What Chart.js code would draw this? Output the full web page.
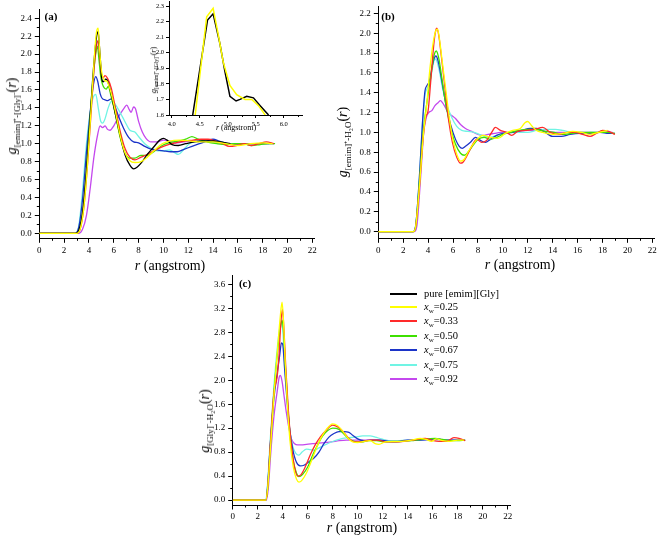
<!DOCTYPE html>
<html><head><meta charset="utf-8">
<script src="https://cdn.jsdelivr.net/npm/chart.js@4.4.1/dist/chart.umd.min.js"></script>
<style>
body{margin:0;background:#fff;width:661px;height:538px;position:relative;overflow:hidden;font-family:"Liberation Serif","Times New Roman",serif;color:#000;}
canvas{position:absolute;}
.t{position:absolute;white-space:nowrap;line-height:1;}
.c{transform:translate(-50%,-50%);}
.rot{transform:translate(-50%,-50%) rotate(-90deg);}
.pl{font-weight:bold;font-size:11px;}
.xt{font-size:14px;}
.yt{font-size:14px;}
.yt .s{font-size:9px;position:relative;top:4px;}
.yti{font-size:8px;}
.yti .s{font-size:5.5px;position:relative;top:2px;}
.lg{position:absolute;left:390px;width:27px;height:2px;}
.lt{position:absolute;left:424px;font-size:10.5px;white-space:nowrap;line-height:1;transform:translateY(-50%);}
.lt .s{font-size:7px;position:relative;top:3px;}
</style></head><body>
<canvas id="ca" width="330" height="275" style="left:0;top:0"></canvas>
<canvas id="cb" width="331" height="275" style="left:330px;top:0"></canvas>
<canvas id="cc" width="340" height="268" style="left:190px;top:270px"></canvas>
<canvas id="ci" width="175" height="140" style="left:140px;top:0"></canvas>

<div class="t c pl" style="left:51px;top:16px">(a)</div>
<div class="t c pl" style="left:388px;top:16px">(b)</div>
<div class="t c pl" style="left:245px;top:283px">(c)</div>

<div class="t c xt" style="left:170px;top:266px"><i>r</i> (angstrom)</div>
<div class="t c xt" style="left:520px;top:265px"><i>r</i> (angstrom)</div>
<div class="t c xt" style="left:362px;top:528px"><i>r</i> (angstrom)</div>
<div class="t c" style="left:236px;top:128px;font-size:8px"><i>r</i> (angstrom)</div>

<div class="t rot yt" style="left:12px;top:116px"><i>g</i><span class="s">[emim]⁺-[Gly]⁻</span>(<i>r</i>)</div>
<div class="t rot yt" style="left:343px;top:142px"><i>g</i><span class="s">[emim]⁺-H₂O</span>(<i>r</i>)</div>
<div class="t rot yt" style="left:205px;top:421px"><i>g</i><span class="s">[Gly]⁻-H₂O</span>(<i>r</i>)</div>
<div class="t rot yti" style="left:154px;top:70px"><i>g</i><span class="s">[emim]⁺-[Gly]⁻</span>(<i>r</i>)</div>

<div id="legend"></div>

<script>
// ---------- tick labels ----------
const xTicksMain = [0,2,4,6,8,10,12,14,16,18,20,22];
const xMinorMain = [1,3,5,7,9,11,13,15,17,19,21];
const yTicksA = [0,0.2,0.4,0.6,0.8,1.0,1.2,1.4,1.6,1.8,2.0,2.2,2.4];
const yMinorA = [0.1,0.3,0.5,0.7,0.9,1.1,1.3,1.5,1.7,1.9,2.1,2.3];
const yTicksB = [0,0.2,0.4,0.6,0.8,1.0,1.2,1.4,1.6,1.8,2.0,2.2];
const yMinorB = [0.1,0.3,0.5,0.7,0.9,1.1,1.3,1.5,1.7,1.9,2.1];
const yTicksC = [0,0.4,0.8,1.2,1.6,2.0,2.4,2.8,3.2,3.6];
const yMinorC = [0.2,0.6,1.0,1.4,1.8,2.2,2.6,3.0,3.4];
const xTicksIn = [4.0,4.5,5.0,5.5,6.0];
const xMinorIn = [4.25,4.75,5.25,5.75,6.25];
const yTicksIn = [1.6,1.7,1.8,1.9,2.0,2.1,2.2,2.3];

// ---------- legend ----------
const seriesNames = ['pure [emim][Gly]','0.25','0.33','0.50','0.67','0.75','0.92'];
const seriesColors = ['#000000','#ffff00','#ff2a2a','#3ee000','#1c34c8','#70f4e4','#c448ee'];

// ---------- panel (a): g_[emim]-[Gly](r), pairs [r, g] ----------
const a_pure = [[0,0],[2.9,0],[3.2,0.04],[3.5,0.25],[3.8,0.7],[4.1,1.3],[4.4,1.9],[4.62,2.2],[4.74,2.25],[4.86,2.06],[4.95,1.88],[5.04,1.72],[5.15,1.69],[5.22,1.70],[5.34,1.72],[5.46,1.71],[5.6,1.66],[5.8,1.55],[6.1,1.35],[6.5,1.1],[6.9,0.88],[7.3,0.76],[7.6,0.72],[7.9,0.74],[8.3,0.8],[8.7,0.88],[9.2,0.96],[9.7,1.04],[10.0,1.06],[10.3,1.04],[10.7,0.99],[11.2,0.98],[11.8,1.0],[12.5,1.02],[13.3,1.03],[14.0,1.03],[14.6,1.02],[15.4,1.0]];
const a_025 = [[0,0],[3.0,0],[3.3,0.05],[3.6,0.3],[3.9,0.8],[4.2,1.45],[4.45,2.0],[4.6,2.24],[4.74,2.29],[4.83,2.12],[4.92,1.94],[5.04,1.79],[5.16,1.73],[5.31,1.70],[5.43,1.70],[5.6,1.65],[5.8,1.56],[6.1,1.38],[6.5,1.1],[6.9,0.9],[7.3,0.81],[7.7,0.79],[8.2,0.8],[8.7,0.85],[9.3,0.93],[9.9,1.0],[10.5,1.03],[11.3,1.04],[12.2,1.03],[13.0,1.02],[14.0,1.02],[15.0,1.0],[16.0,0.98],[17.0,1.0],[18.0,1.01],[18.8,1.0]];
const a_033 = [[0,0],[3.0,0],[3.3,0.05],[3.6,0.3],[3.9,0.8],[4.2,1.4],[4.45,1.9],[4.62,2.1],[4.74,2.15],[4.88,1.95],[5.0,1.78],[5.15,1.74],[5.3,1.76],[5.5,1.73],[5.8,1.62],[6.1,1.42],[6.5,1.15],[6.9,0.95],[7.3,0.85],[7.7,0.82],[8.2,0.85],[8.7,0.88],[9.2,0.92],[9.8,0.96],[10.4,0.99],[11.0,1.01],[11.7,1.03],[12.4,1.04],[13.0,1.05],[13.6,1.05],[14.2,1.03],[14.8,1.0],[15.3,0.97],[15.9,0.98],[16.5,1.0],[17.1,0.98],[17.7,1.0],[18.3,1.02],[18.9,1.0]];
const a_050 = [[0,0],[3.0,0],[3.3,0.06],[3.6,0.35],[3.9,0.9],[4.2,1.5],[4.45,1.9],[4.6,2.05],[4.68,2.09],[4.8,1.95],[4.95,1.75],[5.1,1.66],[5.25,1.62],[5.4,1.61],[5.55,1.64],[5.8,1.52],[6.1,1.35],[6.5,1.08],[6.9,0.9],[7.3,0.84],[7.7,0.84],[8.2,0.87],[8.7,0.87],[9.3,0.92],[9.9,0.98],[10.5,1.01],[11.2,1.03],[11.8,1.05],[12.3,1.08],[12.8,1.05],[13.5,1.02],[14.3,1.0],[15.0,0.99],[15.7,1.0],[16.4,1.0],[17.1,0.98],[17.8,0.99],[18.4,1.0],[19.0,1.0]];
const a_067 = [[0,0],[2.9,0],[3.2,0.08],[3.5,0.4],[3.8,0.9],[4.1,1.35],[4.35,1.65],[4.55,1.75],[4.7,1.7],[4.9,1.56],[5.1,1.5],[5.3,1.49],[5.5,1.48],[5.8,1.5],[6.0,1.45],[6.4,1.3],[6.8,1.17],[7.2,1.07],[7.6,1.02],[8.0,1.01],[8.5,0.97],[9.0,0.94],[9.5,0.93],[10.0,0.92],[10.6,0.91],[11.1,0.91],[11.7,0.94],[12.3,0.97],[12.9,1.0],[13.5,1.03],[14.0,1.05],[14.5,1.03],[15.2,1.0],[15.8,0.99],[16.5,1.0],[17.2,1.0],[18.0,1.0],[18.9,1.0]];
const a_075 = [[0,0],[2.9,0],[3.2,0.1],[3.5,0.5],[3.8,1.0],[4.1,1.35],[4.35,1.52],[4.55,1.55],[4.75,1.4],[4.95,1.25],[5.1,1.23],[5.3,1.28],[5.55,1.4],[5.8,1.47],[6.0,1.46],[6.3,1.4],[6.7,1.3],[7.0,1.22],[7.3,1.15],[7.7,1.13],[8.0,1.08],[8.5,1.0],[9.0,0.95],[9.5,0.92],[10.0,0.92],[10.5,0.93],[10.9,0.9],[11.2,0.88],[11.6,0.93],[12.1,1.0],[12.7,1.03],[13.3,1.03],[14.0,1.02],[14.7,1.01],[15.5,1.0],[16.5,1.0],[17.5,1.0],[18.5,1.0]];
const a_092 = [[0,0],[3.2,0],[3.5,0.05],[3.8,0.2],[4.1,0.5],[4.4,0.85],[4.7,1.1],[4.9,1.2],[5.1,1.18],[5.3,1.2],[5.5,1.16],[5.7,1.15],[6.0,1.2],[6.3,1.28],[6.6,1.35],[6.85,1.4],[7.05,1.43],[7.25,1.38],[7.4,1.35],[7.6,1.41],[7.75,1.39],[8.0,1.25],[8.3,1.13],[8.6,1.06],[9.0,1.02],[9.5,1.02],[10.0,1.04],[10.5,1.03],[11.0,1.01],[11.6,1.02],[12.3,1.03],[13.0,1.03],[13.7,1.02],[14.4,1.01],[15.2,1.0],[16.2,1.0],[17.2,1.0],[18.5,1.0]];

// ---------- panel (b): g_[emim]-H2O(r) ----------
const b_025 = [[0,0],[2.8,0],[3.0,0.05],[3.3,0.45],[3.6,0.95],[3.9,1.3],[4.15,1.65],[4.4,1.9],[4.6,2.02],[4.75,2.04],[4.9,1.95],[5.1,1.75],[5.4,1.45],[5.7,1.15],[6.0,0.92],[6.3,0.78],[6.6,0.71],[6.9,0.73],[7.2,0.8],[7.6,0.88],[8.0,0.94],[8.4,0.97],[9.0,0.95],[9.6,0.94],[10.2,0.99],[10.8,1.02],[11.4,1.04],[11.8,1.1],[12.0,1.11],[12.3,1.07],[12.7,1.02],[13.2,1.0],[14.0,0.98],[14.8,0.99],[15.6,1.01],[16.3,1.0],[17.0,0.98],[17.7,1.0],[18.4,1.02]];
const b_033 = [[0,0],[2.8,0],[3.0,0.05],[3.3,0.45],[3.6,0.95],[3.8,1.15],[4.0,1.22],[4.2,1.5],[4.45,1.88],[4.6,2.02],[4.7,2.05],[4.85,1.98],[5.05,1.78],[5.35,1.45],[5.65,1.12],[5.95,0.9],[6.3,0.75],[6.6,0.69],[6.8,0.7],[7.1,0.76],[7.5,0.86],[7.9,0.93],[8.3,0.9],[8.7,0.92],[9.1,1.0],[9.4,1.05],[9.8,1.02],[10.3,1.0],[10.7,0.97],[11.2,1.01],[11.8,1.02],[12.5,1.03],[13.2,1.05],[13.8,1.0],[14.5,0.98],[15.2,1.0],[15.8,1.0],[16.4,0.98],[17.0,0.96],[17.5,0.99],[18.0,1.02],[18.5,1.01],[19.0,0.98]];
const b_050 = [[0,0],[2.8,0],[3.0,0.05],[3.3,0.5],[3.6,1.0],[3.9,1.3],[4.2,1.55],[4.45,1.76],[4.65,1.82],[4.85,1.75],[5.1,1.55],[5.4,1.3],[5.8,1.05],[6.2,0.88],[6.6,0.79],[6.9,0.77],[7.2,0.8],[7.6,0.87],[8.0,0.93],[8.5,0.95],[9.0,0.93],[9.5,0.95],[10.0,0.98],[10.6,1.0],[11.3,1.02],[12.0,1.03],[12.7,1.03],[13.4,1.01],[14.1,1.0],[14.8,0.98],[15.5,0.99],[16.2,1.0],[17.0,1.0],[17.8,1.0],[18.5,1.0],[19.0,0.99]];
const b_067 = [[0,0],[2.8,0],[3.0,0.06],[3.3,0.55],[3.55,1.1],[3.75,1.42],[3.9,1.47],[4.1,1.52],[4.3,1.65],[4.5,1.75],[4.62,1.77],[4.8,1.72],[5.1,1.52],[5.4,1.3],[5.8,1.08],[6.2,0.93],[6.5,0.86],[6.75,0.84],[7.0,0.86],[7.4,0.9],[7.8,0.95],[8.2,0.92],[8.6,0.9],[9.0,0.93],[9.5,0.97],[10.0,0.99],[10.8,1.0],[11.5,1.02],[12.2,1.04],[12.7,1.04],[13.3,1.01],[14.0,0.96],[14.7,0.96],[15.4,0.98],[16.2,0.99],[17.0,0.99],[17.8,1.0],[18.5,0.99],[19.0,0.99]];
const b_075 = [[0,0],[2.8,0],[3.0,0.06],[3.3,0.55],[3.55,1.1],[3.75,1.38],[3.95,1.45],[4.15,1.5],[4.35,1.65],[4.55,1.74],[4.7,1.72],[4.9,1.62],[5.2,1.42],[5.5,1.28],[5.9,1.15],[6.3,1.06],[6.7,1.02],[7.2,1.01],[7.7,1.0],[8.1,0.98],[8.5,0.96],[9.0,0.95],[9.5,0.97],[10.0,0.99],[10.7,1.0],[11.4,1.0],[12.0,1.0],[12.7,1.02],[13.4,1.03],[14.2,1.03],[14.8,1.02],[15.5,1.0],[16.3,0.99],[17.0,1.0],[17.8,1.0],[18.5,1.0]];
const b_092 = [[0,0],[2.9,0],[3.1,0.06],[3.4,0.55],[3.65,1.0],[3.85,1.15],[4.05,1.2],[4.3,1.22],[4.55,1.27],[4.8,1.3],[5.0,1.32],[5.15,1.3],[5.35,1.26],[5.6,1.2],[5.9,1.17],[6.2,1.14],[6.6,1.08],[7.0,1.04],[7.5,1.01],[8.0,0.98],[8.4,0.97],[8.8,0.98],[9.3,0.99],[9.8,1.0],[10.5,1.0],[11.2,1.01],[12.0,1.02],[12.8,1.02],[13.6,1.01],[14.4,1.0],[15.2,1.0],[16.0,1.0],[17.0,1.0],[18.0,1.0],[18.8,1.0]];

// ---------- panel (c): g_[Gly]-H2O(r) ----------
const c_025 = [[0,0],[2.65,0],[2.8,0.2],[3.0,0.8],[3.3,1.75],[3.6,2.55],[3.8,3.05],[3.95,3.3],[4.05,3.05],[4.2,2.3],[4.4,1.5],[4.6,0.95],[4.85,0.55],[5.1,0.35],[5.3,0.3],[5.5,0.32],[5.9,0.45],[6.3,0.65],[6.7,0.87],[7.1,1.05],[7.5,1.18],[8.0,1.27],[8.4,1.24],[8.8,1.15],[9.2,1.04],[9.6,0.97],[10.0,0.96],[10.5,0.98],[11.0,0.99],[11.4,0.94],[11.7,0.93],[12.2,0.97],[12.8,0.98],[13.5,0.98],[14.3,1.0],[15.0,1.03],[15.5,1.01],[15.9,0.98],[16.3,1.02],[16.8,0.99],[17.4,0.98],[18.0,1.0],[18.5,1.0]];
const c_033 = [[0,0],[2.65,0],[2.8,0.2],[3.0,0.9],[3.3,1.8],[3.55,2.05],[3.7,2.4],[3.85,2.95],[3.98,3.18],[4.1,2.85],[4.25,2.2],[4.45,1.5],[4.65,1.0],[4.9,0.6],[5.2,0.4],[5.45,0.42],[5.8,0.55],[6.2,0.75],[6.6,0.92],[7.0,1.05],[7.5,1.17],[8.0,1.25],[8.4,1.22],[8.8,1.15],[9.2,1.05],[9.6,0.98],[10.0,0.97],[10.5,0.98],[11.0,1.0],[11.6,1.0],[12.3,0.97],[13.0,0.97],[13.7,0.98],[14.4,1.0],[15.0,1.02],[15.4,1.03],[15.9,1.0],[16.5,0.98],[17.1,0.98],[17.7,1.04],[18.1,1.03],[18.6,0.99]];
const c_050 = [[0,0],[2.65,0],[2.8,0.2],[3.0,0.85],[3.3,1.8],[3.6,2.5],[3.8,2.85],[3.95,3.0],[4.05,2.85],[4.2,2.3],[4.4,1.6],[4.6,1.05],[4.85,0.65],[5.1,0.45],[5.3,0.39],[5.6,0.43],[6.0,0.55],[6.4,0.75],[6.8,0.92],[7.2,1.07],[7.6,1.16],[8.0,1.2],[8.5,1.18],[8.9,1.1],[9.3,1.02],[9.7,0.98],[10.3,0.97],[10.9,0.99],[11.5,0.99],[12.2,0.97],[12.9,0.97],[13.6,0.98],[14.3,0.99],[15.0,1.01],[15.6,1.02],[16.2,1.03],[16.8,1.01],[17.4,0.99],[18.0,0.99],[18.6,1.0]];
const c_067 = [[0,0],[2.65,0],[2.8,0.25],[3.0,0.9],[3.3,1.7],[3.55,2.1],[3.75,2.4],[3.9,2.62],[4.0,2.6],[4.15,2.2],[4.35,1.65],[4.55,1.2],[4.8,0.85],[5.1,0.63],[5.4,0.57],[5.7,0.58],[6.1,0.64],[6.5,0.7],[6.9,0.8],[7.3,0.94],[7.7,1.05],[8.1,1.11],[8.5,1.14],[8.9,1.14],[9.3,1.13],[9.6,1.08],[10.0,1.02],[10.5,0.99],[11.1,1.0],[11.8,1.0],[12.5,0.98],[13.2,0.98],[14.0,1.0],[14.8,1.0],[15.5,1.01],[16.2,1.02],[17.0,1.0],[17.8,1.0],[18.5,1.0]];
const c_075 = [[0,0],[2.65,0],[2.8,0.3],[3.0,1.0],[3.3,1.9],[3.55,2.5],[3.75,2.85],[3.9,2.95],[4.0,2.85],[4.15,2.3],[4.35,1.7],[4.55,1.2],[4.8,0.9],[5.05,0.78],[5.3,0.75],[5.55,0.8],[5.9,0.85],[6.2,0.84],[6.5,0.83],[6.9,0.87],[7.3,0.91],[7.8,0.96],[8.3,1.0],[8.8,1.03],[9.3,1.04],[9.8,1.05],[10.4,1.07],[11.0,1.07],[11.4,1.05],[11.9,1.02],[12.5,0.99],[13.2,0.99],[14.0,1.0],[14.8,1.0],[15.6,1.01],[16.4,1.01],[17.2,1.0],[18.0,1.0],[18.6,1.0]];
const c_092 = [[0,0],[2.7,0],[2.85,0.2],[3.05,0.8],[3.3,1.4],[3.55,1.8],[3.72,2.05],[3.82,2.08],[3.95,1.98],[4.1,1.75],[4.3,1.45],[4.5,1.2],[4.7,1.02],[4.95,0.94],[5.2,0.92],[5.5,0.92],[5.9,0.93],[6.4,0.94],[6.9,0.95],[7.4,0.96],[7.9,0.97],[8.5,0.99],[9.1,1.0],[9.7,1.0],[10.4,1.0],[11.1,1.0],[11.8,1.0],[12.6,0.99],[13.4,0.99],[14.2,1.0],[15.0,1.0],[15.8,1.01],[16.6,1.01],[17.4,1.0],[18.2,1.0],[18.6,1.0]];

// ---------- inset: first peak of panel (a) ----------
const in_pure = [[4.375,1.6],[4.64,2.21],[4.74,2.25],[4.86,2.06],[4.95,1.88],[5.04,1.72],[5.15,1.69],[5.22,1.70],[5.34,1.72],[5.46,1.71],[5.58,1.66],[5.73,1.6]];
const in_025 = [[4.42,1.6],[4.625,2.23],[4.74,2.285],[4.83,2.12],[4.92,1.94],[5.04,1.79],[5.16,1.73],[5.31,1.70],[5.43,1.70],[5.55,1.66],[5.67,1.6]];

// ---------- helpers ----------
const FONT = 'Liberation Serif';
const minorTicks = {
  id:'minorTicks',
  afterDraw(chart, args, o){
    const ctx = chart.ctx, ca = chart.chartArea, xs = chart.scales.x, ys = chart.scales.y;
    ctx.save(); ctx.strokeStyle='#000'; ctx.lineWidth=1;
    (o.x||[]).forEach(v=>{const p=Math.round(xs.getPixelForValue(v))+0.5;ctx.beginPath();ctx.moveTo(p,ca.bottom);ctx.lineTo(p,ca.bottom+o.len);ctx.stroke();});
    (o.y||[]).forEach(v=>{const p=Math.round(ys.getPixelForValue(v))+0.5;ctx.beginPath();ctx.moveTo(ca.left,p);ctx.lineTo(ca.left-o.len,p);ctx.stroke();});
    ctx.restore();
  }
};

function ds(pairs, color, mono, width){
  return {data: pairs.map(p=>({x:p[0], y:p[1]})), borderColor:color, backgroundColor:color,
    borderWidth: width||1.3, pointRadius:0, fill:false,
    cubicInterpolationMode: mono ? 'monotone' : 'default', tension: 0};
}

function makeChart(id, datasets, cfg){
  return new Chart(document.getElementById(id), {
    type:'line',
    data:{datasets},
    options:{
      responsive:false, animation:false, events:[],
      layout:{padding:{left:0, right:cfg.padR, top:cfg.padT, bottom:0}},
      plugins:{legend:{display:false}, tooltip:{enabled:false},
        minorTicks:{x:cfg.xMinor, y:cfg.yMinor, len:cfg.minorLen}},
      scales:{
        x:{type:'linear', min:cfg.xMin, max:cfg.xMax,
          afterBuildTicks(s){ s.ticks = cfg.xTicks.map(v=>({value:v})); },
          afterFit(s){ s.height = cfg.xH; s.paddingLeft=0; s.paddingRight=0; },
          ticks:{font:{family:FONT,size:cfg.fs}, color:'#000', maxRotation:0, autoSkip:false, padding:cfg.xPad,
            callback:(v)=> cfg.xDec ? Number(v).toFixed(1) : String(v)},
          grid:{drawOnChartArea:false, drawTicks:true, tickLength:cfg.tickLen, tickColor:'#000', tickWidth:1},
          border:{display:true, color:'#000', width:1}},
        y:{type:'linear', min:cfg.yMin, max:cfg.yMax,
          afterBuildTicks(s){ s.ticks = cfg.yTicks.map(v=>({value:v})); },
          afterFit(s){ s.width = cfg.yW; s.paddingTop=0; s.paddingBottom=0; },
          ticks:{font:{family:FONT,size:cfg.fs}, color:'#000', autoSkip:false, padding:cfg.yPad,
            callback:(v)=> Number(v).toFixed(1)},
          grid:{drawOnChartArea:false, drawTicks:true, tickLength:cfg.tickLen, tickColor:'#000', tickWidth:1},
          border:{display:true, color:'#000', width:1}}
      }
    },
    plugins:[minorTicks]
  });
}
const C = seriesColors;

makeChart('ca', [ds(a_025,C[1],1),ds(a_pure,C[0],1),ds(a_033,C[2],1),ds(a_050,C[3],1),ds(a_067,C[4],1),ds(a_075,C[5],1),ds(a_092,C[6],1)],
  {padR:330-314.8, padT:9.35, xMin:0, xMax:22.2, yMin:-0.056, yMax:2.5, xTicks:xTicksMain, yTicks:yTicksA,
   xMinor:xMinorMain, yMinor:yMinorA, minorLen:2.5, xH:275-238.3, yW:39.3, fs:9, tickLen:4.5, xPad:2, yPad:3});

makeChart('cb', [ds(b_025,C[1],1),ds(b_033,C[2],1),ds(b_050,C[3],1),ds(b_067,C[4],1),ds(b_075,C[5],1),ds(b_092,C[6],1)],
  {padR:331-324.8, padT:6.35, xMin:0, xMax:22.2, yMin:-0.0665, yMax:2.27, xTicks:xTicksMain, yTicks:yTicksB,
   xMinor:xMinorMain, yMinor:yMinorB, minorLen:2.5, xH:275-238.3, yW:48.3, fs:9, tickLen:4.5, xPad:2, yPad:3});

makeChart('cc', [ds(c_025,C[1],1),ds(c_033,C[2],1),ds(c_050,C[3],1),ds(c_067,C[4],1),ds(c_075,C[5],1),ds(c_092,C[6],1)],
  {padR:340-320.2, padT:5.3, xMin:0, xMax:22.2, yMin:-0.083, yMax:3.75, xTicks:xTicksMain, yTicks:yTicksC,
   xMinor:xMinorMain, yMinor:yMinorC, minorLen:2.5, xH:268-235, yW:42.7, fs:9, tickLen:4.5, xPad:2, yPad:3});

makeChart('ci', [ds(in_025,C[1],0,1.5),ds(in_pure,C[0],0,1.5)],
  {padR:13, padT:1.33, xMin:3.952, xMax:6.327, yMin:1.6, yMax:2.33, xTicks:xTicksIn, yTicks:yTicksIn,
   xMinor:xMinorIn, yMinor:[], minorLen:2, xH:25, yW:29, fs:6.5, tickLen:3, xPad:2, yPad:2, xDec:1});

// legend (HTML, real text)
const legendRows = [294,307,321,336,350,365,379];
const lg = document.getElementById('legend');
seriesNames.forEach((n,i)=>{
  const y = legendRows[i];
  const line = document.createElement('div'); line.className='lg';
  line.style.top=(y-1)+'px'; line.style.background=seriesColors[i]; lg.appendChild(line);
  const t = document.createElement('div'); t.className='lt'; t.style.top=y+'px';
  t.innerHTML = i===0 ? n : '<i>x</i><span class="s">w</span>=' + n;
  lg.appendChild(t);
});
</script>
</body></html>
